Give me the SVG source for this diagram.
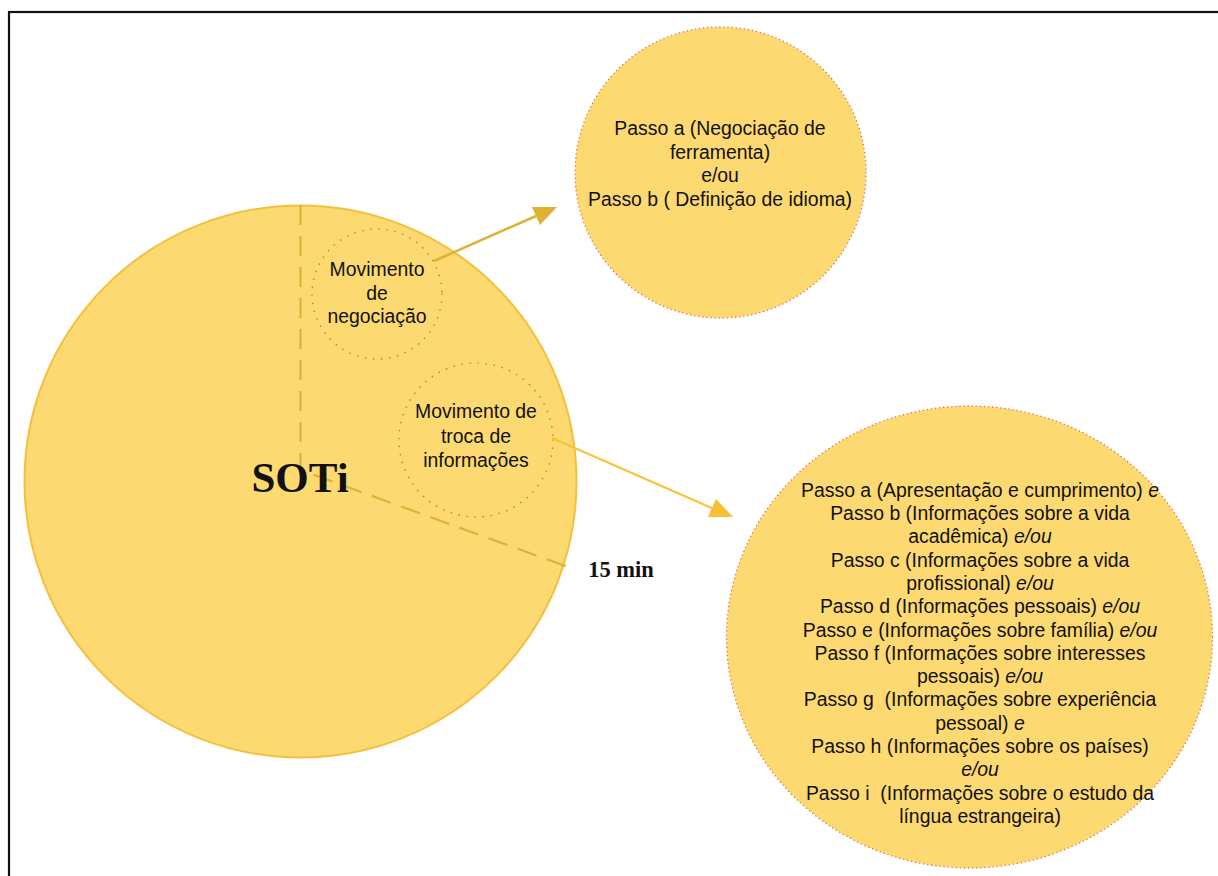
<svg xmlns="http://www.w3.org/2000/svg" width="1218" height="876" viewBox="0 0 1218 876">
<style>
.t{font-family:"Liberation Sans",Arial,sans-serif;font-size:19.4px;fill:#111;text-anchor:middle;white-space:pre}
.s{font-family:"Liberation Serif","Times New Roman",serif;font-weight:bold;fill:#111;text-anchor:middle}
.i{font-style:italic}
.dot{fill:none;stroke:#e0704a;stroke-width:1.6;stroke-linecap:round;stroke-dasharray:0.1 8}
.dotb{stroke:#e0704a;stroke-width:1.4;stroke-linecap:round;stroke-dasharray:0.1 4}
.dash{fill:none;stroke:#dfb13c;stroke-width:2.2;stroke-dasharray:20 11}
</style>
<rect x="0" y="0" width="1218" height="876" fill="#fff"/>
<rect x="9" y="12" width="1220" height="880" fill="none" stroke="#111" stroke-width="2.2"/>

<g id="soti">
<circle cx="300.5" cy="481.5" r="276" fill="#fdd971" stroke="#f4c03c" stroke-width="2"/>
<path class="dash" d="M300.5,205 L300.5,470 L568,567"/>
<text class="s" x="300" y="492" font-size="43">SOTi</text>
<text class="s" x="621" y="577" font-size="22.5">15 min</text>
</g>

<g id="mov-negociacao">
<circle class="dot" cx="377" cy="294" r="65"/>
<text class="t" x="377" y="276">Movimento</text>
<text class="t" x="377" y="300">de</text>
<text class="t" x="377" y="323">negociação</text>
</g>

<g id="mov-troca">
<circle class="dot" cx="476" cy="440" r="77"/>
<text class="t" x="476" y="418">Movimento de</text>
<text class="t" x="476" y="443">troca de</text>
<text class="t" x="476" y="467">informações</text>
</g>

<g id="passos-negociacao">
<circle class="dotb" cx="720.5" cy="172.5" r="145.5" fill="#fdd971"/>
<text class="t" x="720" y="135">Passo a (Negociação de</text>
<text class="t" x="720" y="159">ferramenta)</text>
<text class="t" x="720" y="182">e/ou</text>
<text class="t" x="720" y="206">Passo b ( Definição de idioma)</text>
</g>

<g id="passos-troca">
<ellipse class="dotb" cx="969.5" cy="637" rx="243" ry="231" fill="#fdd971"/>
<text class="t" x="980" y="497">Passo a (Apresentação e cumprimento) <tspan class="i">e</tspan></text>
<text class="t" x="980" y="520">Passo b (Informações sobre a vida</text>
<text class="t" x="980" y="543">acadêmica) <tspan class="i">e/ou</tspan></text>
<text class="t" x="980" y="567">Passo c (Informações sobre a vida</text>
<text class="t" x="980" y="590">profissional) <tspan class="i">e/ou</tspan></text>
<text class="t" x="980" y="613">Passo d (Informações pessoais) <tspan class="i">e/ou</tspan></text>
<text class="t" x="980" y="637">Passo e (Informações sobre família) <tspan class="i">e/ou</tspan></text>
<text class="t" x="980" y="660">Passo f (Informações sobre interesses</text>
<text class="t" x="980" y="683">pessoais) <tspan class="i">e/ou</tspan></text>
<text class="t" x="980" y="706">Passo g  (Informações sobre experiência</text>
<text class="t" x="980" y="730">pessoal) <tspan class="i">e</tspan></text>
<text class="t" x="980" y="753">Passo h (Informações sobre os países)</text>
<text class="t" x="980" y="776"><tspan class="i">e/ou</tspan></text>
<text class="t" x="980" y="800">Passo i  (Informações sobre o estudo da</text>
<text class="t" x="980" y="823">língua estrangeira)</text>
</g>

<g id="connectors">
<line x1="434" y1="261" x2="536" y2="216" stroke="#dfb236" stroke-width="2.5"/>
<path d="M557,207 L532,207 L540,225 z" fill="#e0b232"/>
<line x1="552" y1="438" x2="714" y2="509" stroke="#f7c33a" stroke-width="2"/>
<path d="M733,517 L716,499 L708,517 z" fill="#f8c133"/>
</g>
</svg>
